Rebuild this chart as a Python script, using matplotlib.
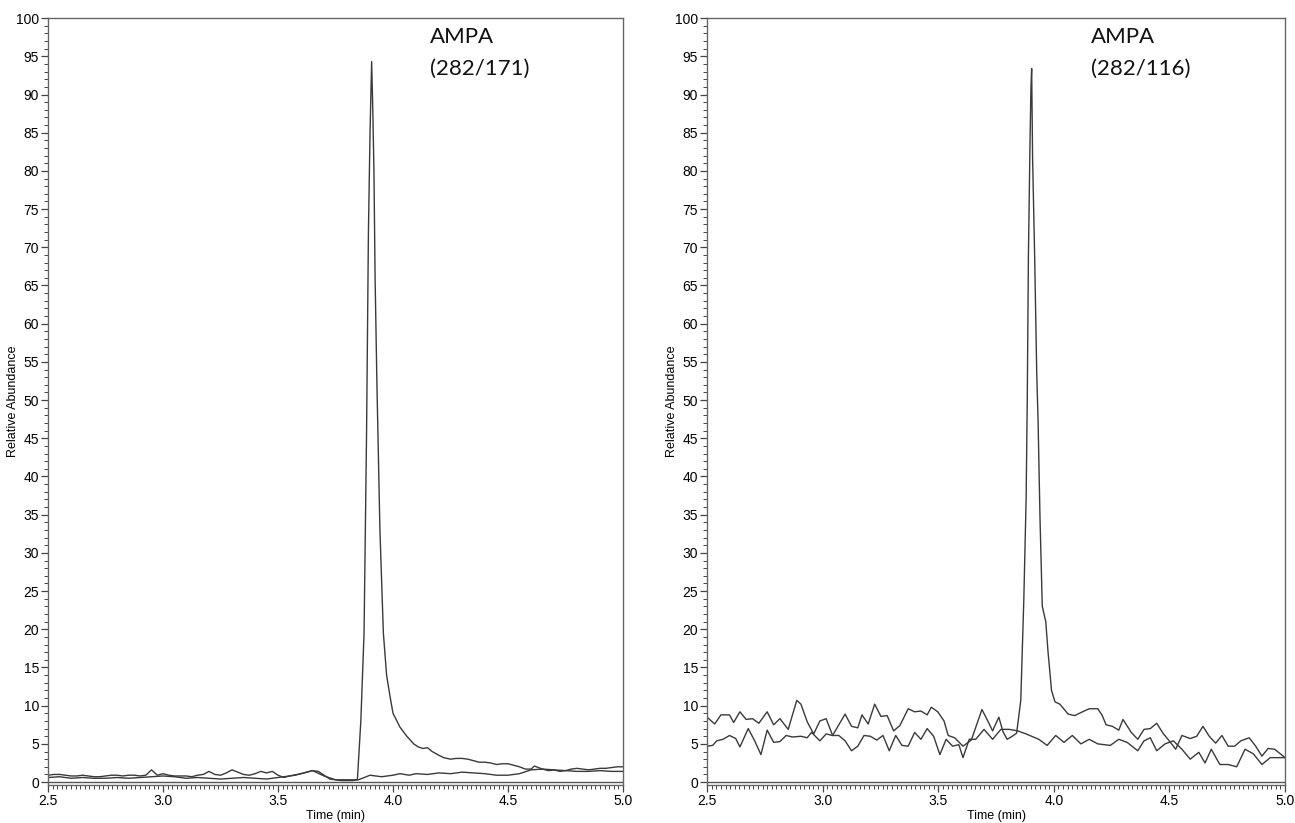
import numpy as np
import matplotlib
matplotlib.use("Agg")
import matplotlib.pyplot as plt
from matplotlib.ticker import MultipleLocator

# --- left panel: AMPA (282/171) ---
left_a_t = [2.5, 2.525, 2.55, 2.575, 2.6, 2.625, 2.65, 2.675, 2.7, 2.725, 2.75, 2.775, 2.8, 2.825,
            2.85, 2.875, 2.9, 2.925, 2.95, 2.975, 3.0, 3.025, 3.05, 3.075, 3.1, 3.125, 3.15, 3.175,
            3.2, 3.225, 3.25, 3.275, 3.3, 3.325, 3.35, 3.375, 3.4, 3.425, 3.45, 3.475, 3.5, 3.525,
            3.55, 3.575, 3.6, 3.625, 3.65, 3.675, 3.7, 3.725, 3.75, 3.775, 3.8, 3.825,
            3.845, 3.86, 3.874, 3.885, 3.893, 3.9, 3.907, 3.912, 3.917, 3.922, 3.93, 3.943, 3.958,
            3.972, 3.987, 4.0, 4.03, 4.06, 4.09, 4.11, 4.13, 4.15, 4.17, 4.2, 4.22, 4.25, 4.275,
            4.3, 4.325, 4.35, 4.375, 4.4, 4.425, 4.45, 4.475, 4.5, 4.525, 4.55, 4.575, 4.6, 4.615,
            4.65, 4.675, 4.7, 4.725, 4.75, 4.775, 4.8, 4.825, 4.85, 4.875, 4.9, 4.925, 4.95, 4.975, 5.0]
left_a_y = [0.9, 1.0, 1.0, 0.9, 0.8, 0.8, 0.9, 0.8, 0.7, 0.7, 0.8, 0.9, 0.9, 0.8,
            0.9, 0.9, 0.8, 0.9, 1.6, 0.9, 1.1, 0.9, 0.8, 0.8, 0.8, 0.7, 0.9, 1.0,
            1.4, 1.0, 0.9, 1.2, 1.6, 1.3, 1.0, 0.9, 1.1, 1.4, 1.2, 1.4, 0.9, 0.6,
            0.8, 0.9, 1.1, 1.3, 1.5, 1.4, 0.9, 0.4, 0.3, 0.2, 0.2, 0.2,
            0.3, 8.0, 19.5, 46.0, 72.0, 85.0, 94.3, 88.0, 80.0, 66.0, 52.0, 33.0, 19.5,
            14.0, 11.2, 9.0, 7.2, 6.0, 5.0, 4.6, 4.4, 4.5, 4.0, 3.5, 3.2, 3.0, 3.1,
            3.1, 3.0, 2.8, 2.6, 2.6, 2.5, 2.3, 2.4, 2.4, 2.2, 2.0, 1.7, 1.7, 2.1,
            1.7, 1.5, 1.6, 1.4, 1.5, 1.7, 1.8, 1.7, 1.6, 1.7, 1.8, 1.8, 1.9, 2.0, 2.0]

left_b_t = [2.5, 2.55, 2.6, 2.65, 2.7, 2.75, 2.8, 2.85, 2.9, 2.95, 3.0, 3.05, 3.1, 3.15, 3.2,
            3.25, 3.3, 3.35, 3.4, 3.45, 3.5, 3.55, 3.6, 3.65, 3.7, 3.75, 3.8, 3.85, 3.9, 3.95,
            4.0, 4.03, 4.07, 4.1, 4.15, 4.2, 4.25, 4.3, 4.35, 4.4, 4.45, 4.5, 4.55, 4.6, 4.65,
            4.7, 4.75, 4.8, 4.85, 4.9, 4.95, 5.0]
left_b_y = [0.6, 0.7, 0.5, 0.6, 0.5, 0.5, 0.6, 0.5, 0.6, 0.7, 0.8, 0.7, 0.5, 0.6, 0.5,
            0.4, 0.5, 0.6, 0.5, 0.4, 0.6, 0.8, 1.1, 1.5, 0.8, 0.3, 0.3, 0.3, 0.9, 0.7,
            0.9, 1.1, 0.9, 1.1, 1.0, 1.2, 1.1, 1.3, 1.2, 1.1, 0.9, 0.9, 1.1, 1.6, 1.7,
            1.6, 1.5, 1.4, 1.4, 1.5, 1.4, 1.4]

# --- right panel: AMPA (282/116) ---
right_a_t = [2.5, 2.533, 2.56, 2.597, 2.615, 2.642, 2.669, 2.697, 2.724, 2.76, 2.788, 2.815,
             2.851, 2.888, 2.906, 2.933, 2.961, 2.988, 3.015, 3.043, 3.097, 3.125, 3.152, 3.17,
             3.197, 3.225, 3.252, 3.279, 3.307, 3.334, 3.37, 3.398, 3.425, 3.452, 3.47, 3.498,
             3.525, 3.543, 3.571, 3.607, 3.643, 3.689, 3.716, 3.735, 3.762, 3.78, 3.798,
             3.82, 3.839, 3.857, 3.87, 3.88, 3.885, 3.89, 3.897, 3.901, 3.904, 3.908, 3.917,
             3.926, 3.932, 3.94, 3.95, 3.965, 3.975, 3.99, 4.005, 4.026, 4.062, 4.09, 4.117,
             4.153, 4.19, 4.208, 4.226, 4.253, 4.281, 4.299, 4.335, 4.363, 4.39, 4.417, 4.445,
             4.472, 4.499, 4.527, 4.554, 4.59, 4.618, 4.645, 4.672, 4.7, 4.727, 4.754, 4.782,
             4.809, 4.845, 4.873, 4.9, 4.927, 4.955, 5.0]
right_a_y = [8.5, 7.6, 8.8, 8.8, 7.8, 9.2, 8.2, 8.3, 7.7, 9.2, 7.5, 8.3,
             6.9, 10.7, 10.2, 7.9, 6.3, 8.0, 8.3, 6.1, 8.9, 7.3, 7.1, 8.8,
             7.6, 10.2, 8.6, 8.7, 6.7, 7.4, 9.6, 9.2, 9.3, 8.8, 9.8, 9.2,
             8.0, 6.1, 5.8, 4.7, 5.5, 9.5, 7.9, 6.7, 8.5, 6.6, 5.6,
             6.0, 6.4, 10.7, 23.8, 36.9, 50.0, 68.8, 84.0, 91.0, 93.4, 81.8, 68.8,
             53.5, 47.0, 34.7, 23.0, 21.0, 17.0, 12.0, 10.5, 10.2, 8.9, 8.7, 9.1,
             9.6, 9.6, 8.8, 7.5, 7.3, 6.8, 8.2, 6.5, 5.6, 6.9, 7.0, 7.7,
             6.4, 5.4, 4.3, 6.1, 5.7, 6.0, 7.3, 6.0, 5.1, 6.1, 4.7, 4.7,
             5.4, 5.8, 4.7, 3.4, 4.4, 4.3, 3.2]

right_b_t = [2.5, 2.524, 2.542, 2.569, 2.597, 2.624, 2.642, 2.678, 2.706, 2.733, 2.76, 2.788,
             2.815, 2.842, 2.87, 2.906, 2.933, 2.952, 2.988, 3.015, 3.043, 3.07, 3.097, 3.125,
             3.152, 3.179, 3.206, 3.234, 3.261, 3.288, 3.316, 3.343, 3.37, 3.398, 3.425, 3.452,
             3.48, 3.507, 3.534, 3.562, 3.589, 3.607, 3.634, 3.662, 3.698, 3.735, 3.771, 3.807,
             3.844, 3.88, 3.935, 3.971, 4.008, 4.044, 4.08, 4.117, 4.153, 4.19, 4.244, 4.281,
             4.317, 4.363, 4.39, 4.417, 4.445, 4.481, 4.517, 4.554, 4.59, 4.627, 4.654, 4.681,
             4.718, 4.754, 4.791, 4.827, 4.863, 4.9, 4.936, 5.0]
right_b_y = [4.7, 4.8, 5.4, 5.6, 6.1, 5.7, 4.6, 7.0, 5.4, 3.6, 6.8, 5.2,
             5.3, 6.1, 5.9, 6.0, 5.8, 6.5, 5.4, 6.3, 6.1, 6.1, 5.4, 4.1,
             4.7, 6.1, 6.0, 5.5, 6.1, 4.1, 6.1, 4.8, 4.7, 6.5, 5.6, 7.0,
             6.0, 3.6, 5.6, 4.7, 4.9, 3.2, 5.6, 5.6, 6.9, 5.6, 6.9, 6.9,
             6.7, 6.3, 5.6, 4.8, 6.1, 5.2, 6.1, 5.0, 5.6, 5.0, 4.8, 5.6,
             5.2, 4.1, 5.4, 5.8, 4.1, 5.0, 5.4, 4.3, 3.0, 3.9, 2.5, 4.3,
             2.3, 2.3, 2.0, 4.3, 3.7, 2.3, 3.2, 3.2]

panels = [
    (left_a_t, left_a_y, left_b_t, left_b_y, "AMPA\n(282/171)"),
    (right_a_t, right_a_y, right_b_t, right_b_y, "AMPA\n(282/116)"),
]
positions = [[0.0371, 0.046, 0.444, 0.932], [0.546, 0.046, 0.4463, 0.932]]

plt.rcParams['font.family'] = ['Liberation Sans', 'DejaVu Sans']
fig = plt.figure(figsize=(12.95, 8.23), dpi=100)
fig.patch.set_facecolor('white')

line_col = '#3a3a3a'
for pos, (ta, ya, tb, yb, label) in zip(positions, panels):
    ax = fig.add_axes(pos)
    ax.plot(tb, yb, color=line_col, lw=1.0)
    ax.plot(ta, ya, color=line_col, lw=1.0)
    ax.axhline(0, color='#555555', lw=1.0)
    ax.set_xlim(2.5, 5.0)
    ax.set_ylim(-0.4, 100)
    ax.xaxis.set_major_locator(MultipleLocator(0.5))
    ax.xaxis.set_minor_locator(MultipleLocator(0.02))
    ax.yaxis.set_major_locator(MultipleLocator(5))
    ax.yaxis.set_minor_locator(MultipleLocator(1))
    ax.xaxis.set_major_formatter(matplotlib.ticker.FormatStrFormatter('%.1f'))
    ax.tick_params(which='major', length=5, width=0.9, color='#444444', labelsize=10, pad=1.5)
    ax.tick_params(which='minor', length=3, width=0.7, color='#444444')
    for s in ax.spines.values():
        s.set_color('#666666')
        s.set_linewidth(1.0)
    ax.set_xlabel('Time (min)', fontsize=9, labelpad=1)
    ax.set_ylabel('Relative Abundance', fontsize=9)
    ax.yaxis.set_label_coords(-0.05, 0.5)
    ax.text(4.16, 98.9, label, fontsize=16, family=['Lato', 'DejaVu Sans'],
            va='top', ha='left', linespacing=1.75, color='#111111')

fig.savefig('out.png', dpi=100)
